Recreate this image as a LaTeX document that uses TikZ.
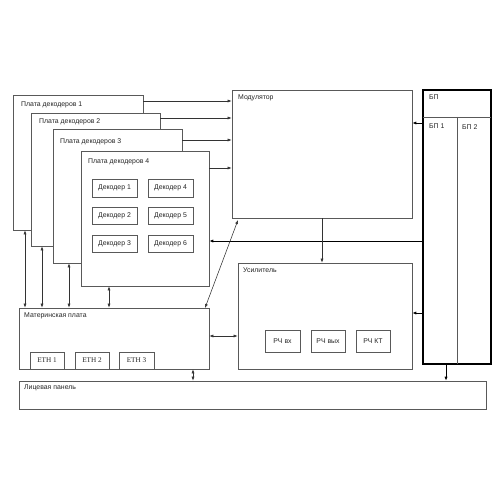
\documentclass[tikz,border=0pt]{standalone}
\usepackage{fontspec}
\setmainfont{Liberation Sans}
\newfontfamily\serifeth{Liberation Serif}
\usetikzlibrary{fit,arrows.meta,calc}
\begin{document}
\begin{tikzpicture}[x=1pt,y=-1pt,
  box/.style={draw=black!65, line width=0.6pt, fill=white, inner sep=0pt},
  thickbox/.style={draw=black, line width=1.2pt, inner sep=0pt},
  lbl/.style={anchor=north west, inner sep=0pt, font=\fontsize{6.9}{8}\selectfont, text=black!85},
  sub/.style={font=\fontsize{6.9}{8}\selectfont, text=black!85},
  eth/.style={font=\serifeth\fontsize{7.2}{8}\selectfont, text=black!85},
  arr/.style={draw=black!80, line width=0.55pt, -{Latex[length=4pt,width=3pt]}},
  darr/.style={draw=black!80, line width=0.55pt, {Latex[length=4pt,width=3pt]}-{Latex[length=4pt,width=3pt]}},
  tarr/.style={draw=black, line width=0.9pt, -{Latex[length=4pt,width=3.2pt]}}]
\useasboundingbox (0,0) rectangle (500,500);
% decoder boards
\node[box, fit={(13,95)(143,230)}] (b1) {};
\node[lbl] (b1l) at (21,102) {Плата декодеров 1};
\node[box, fit={(31,113)(160,246)}] (b2) {};
\node[lbl] (b2l) at (39,118) {Плата декодеров 2};
\node[box, fit={(53,129)(182,263)}] (b3) {};
\node[lbl] (b3l) at (60,138) {Плата декодеров 3};
\node[box, fit={(81,151)(209,286)}] (b4) {};
\node[lbl] (b4l) at (88,159) {Плата декодеров 4};
\node[box, fit={(92,179)(137,197)}] (d1) {};
\node[sub] at (d1) {Декодер 1};
\node[box, fit={(148,179)(193,197)}] (d4) {};
\node[sub] at (d4) {Декодер 4};
\node[box, fit={(92,207)(137,224)}] (d2) {};
\node[sub] at (d2) {Декодер 2};
\node[box, fit={(148,207)(193,224)}] (d5) {};
\node[sub] at (d5) {Декодер 5};
\node[box, fit={(92,235)(137,252)}] (d3) {};
\node[sub] at (d3) {Декодер 3};
\node[box, fit={(148,235)(193,252)}] (d6) {};
\node[sub] at (d6) {Декодер 6};
% modulator
\node[box, fit={(232,90)(412,218)}] (mod) {};
\node[lbl] (modl) at (238,95) {Модулятор};
% power supply
\node[thickbox, fit={(423,90)(491,364)}] (bp) {};
\coordinate (bph1) at (423,117);
\coordinate (bph2) at (491,117);
\draw[draw=black!65, line width=0.6pt] (bph1) -- (bph2);
\coordinate (bpv1) at (457,117);
\coordinate (bpv2) at (457,364);
\draw[draw=black!65, line width=0.6pt] (bpv1) -- (bpv2);
\node[lbl] (bpl) at (429,95) {БП};
\node[lbl] (bp1l) at (429,124) {БП 1};
\node[lbl] (bp2l) at (462,124) {БП 2};
% amplifier
\node[box, fit={(238,263)(412,369)}] (amp) {};
\node[lbl] (ampl) at (243,268) {Усилитель};
\node[box, fit={(265,330)(300,352)}] (r1) {};
\node[sub] at (r1) {РЧ вх};
\node[box, fit={(311,330)(345,352)}] (r2) {};
\node[sub] at (r2) {РЧ вых};
\node[box, fit={(356,330)(390,352)}] (r3) {};
\node[sub] at (r3) {РЧ КТ};
% motherboard
\node[box, fit={(19,308)(209,369)}] (mb) {};
\node[lbl] (mbl) at (24,313) {Материнская плата};
\node[box, fit={(30,352)(64,369)}] (e1) {};
\node[eth] at (e1) {ETH 1};
\node[box, fit={(75,352)(109,369)}] (e2) {};
\node[eth] at (e2) {ETH 2};
\node[box, fit={(119,352)(154,369)}] (e3) {};
\node[eth] at (e3) {ETH 3};
% front panel
\node[box, fit={(19,381)(486,409)}] (fp) {};
\node[lbl] (fpl) at (24,385) {Лицевая панель};
% boards -> modulator
\draw[arr] (b1.east |- 0,101) -- (mod.west |- 0,101);
\draw[arr] (b2.east |- 0,118) -- (mod.west |- 0,118);
\draw[arr] (b3.east |- 0,140) -- (mod.west |- 0,140);
\draw[arr] (b4.east |- 0,168) -- (mod.west |- 0,168);
% power supply connections
\draw[tarr] (bp.west |- 0,123) -- (mod.east |- 0,123);
\draw[tarr] (bp.west |- 0,241) -- (b4.east |- 0,241);
\draw[tarr] (bp.west |- 0,313) -- (amp.east |- 0,313);
\draw[tarr] (bp.south -| 446,0) -- (fp.north -| 446,0);
% modulator -> amplifier
\draw[arr] (mod.south -| 322,0) -- (amp.north -| 322,0);
% boards <-> motherboard
\draw[darr] (b1.south -| 25,0) -- (mb.north -| 25,0);
\draw[darr] (b2.south -| 42,0) -- (mb.north -| 42,0);
\draw[darr] (b3.south -| 69,0) -- (mb.north -| 69,0);
\draw[darr] (b4.south -| 109,0) -- (mb.north -| 109,0);
% motherboard links
\draw[darr] (mb.east |- 0,336) -- (amp.west |- 0,336);
\draw[darr] (mb.south -| 193,0) -- (fp.north -| 193,0);
\coordinate (dg1) at (205,308);
\coordinate (dg2) at (238,220);
\draw[darr] (dg1) -- (dg2);
\end{tikzpicture}
\end{document}
